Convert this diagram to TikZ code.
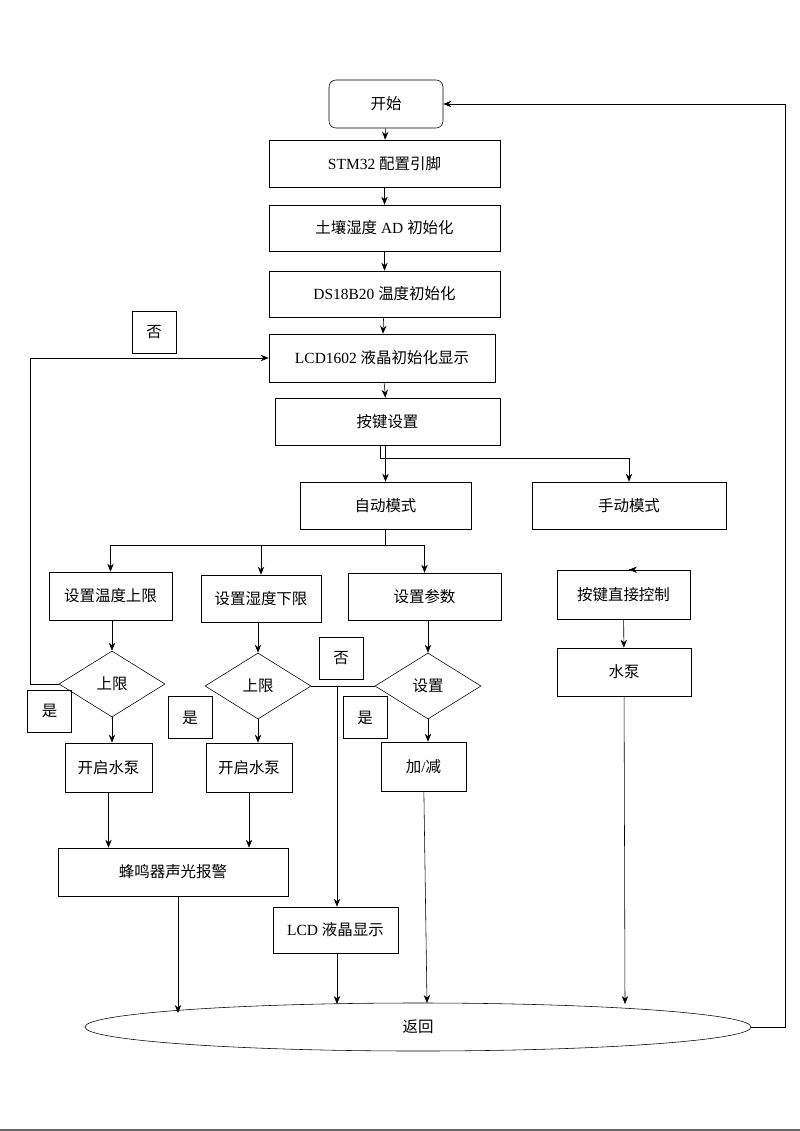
\documentclass[tikz,border=0pt]{standalone}
\usepackage{fontspec}
\setmainfont{Liberation Serif}
\newfontfamily\cjk{Noto Sans CJK SC}
\usetikzlibrary{arrows.meta,shapes.geometric}
\begin{document}
\begin{tikzpicture}
  [x=0.025cm,y=-0.025cm,>={Stealth[length=2mm,width=1.6mm]},
   every node/.style={font=\fontsize{11}{13}\selectfont},
   box/.style={rectangle,draw,inner sep=0pt},
   tag/.style={box,minimum width=1.1cm,minimum height=1.05cm},
   cond/.style={diamond,draw,inner sep=0pt,minimum width=2.65cm,minimum height=1.65cm},
   line/.style={draw,thin}]
  \useasboundingbox (0,0) rectangle (800,1131);
  \draw[gray!80!black,line width=0.8pt] (0,1130) -- (800,1130);

  % main column
  \node[box,rounded corners=5pt,minimum width=2.85cm,minimum height=1.2cm] (start) at (386,104) {\cjk 开始};
  \node[box,minimum width=5.775cm,minimum height=1.175cm] (stm) at (384.5,163.5) {STM32 {\cjk 配置引脚}};
  \node[box,minimum width=5.775cm,minimum height=1.15cm] (ad) at (384.5,228) {{\cjk 土壤湿度} AD {\cjk 初始化}};
  \node[box,minimum width=5.775cm,minimum height=1.15cm] (ds) at (384.5,294) {DS18B20 {\cjk 温度初始化}};
  \node[box,minimum width=5.65cm,minimum height=1.2cm] (lcd) at (382,358) {LCD1602 {\cjk 液晶初始化显示}};
  \node[box,minimum width=5.625cm,minimum height=1.175cm] (key) at (387.5,421.5) {\cjk 按键设置};
  \node[box,minimum width=4.275cm,minimum height=1.175cm] (auto) at (385.5,505.5) {\cjk 自动模式};
  \node[box,minimum width=4.85cm,minimum height=1.175cm] (manual) at (629,505.5) {\cjk 手动模式};

  % automatic branch
  \node[box,minimum width=3.075cm,minimum height=1.2cm] (set1) at (110.5,596) {\cjk 设置温度上限};
  \node[box,minimum width=3cm,minimum height=1.175cm] (set2) at (261,598.5) {\cjk 设置湿度下限};
  \node[box,minimum width=3.825cm,minimum height=1.175cm] (set3) at (424.5,596.5) {\cjk 设置参数};
  \node[cond] (up1) at (112,684) {\cjk 上限};
  \node[cond] (up2) at (258,686) {\cjk 上限};
  \node[cond] (cfg) at (428,686) {\cjk 设置};
  \node[tag] (yes1) at (49.5,711) {\cjk 是};
  \node[tag] (yes2) at (190,717.5) {\cjk 是};
  \node[tag] (yes3) at (365,717.5) {\cjk 是};
  \node[tag] (no1) at (154,332.5) {\cjk 否};
  \node[tag] (no2) at (341,658) {\cjk 否};
  \node[box,minimum width=2.175cm,minimum height=1.225cm] (pump1) at (108.5,767.5) {\cjk 开启水泵};
  \node[box,minimum width=2.15cm,minimum height=1.225cm] (pump2) at (249,767.5) {\cjk 开启水泵};
  \node[box,minimum width=2.125cm,minimum height=1.225cm] (incr) at (423.5,766.5) {{\cjk 加}/{\cjk 减}};
  \node[box,minimum width=5.75cm,minimum height=1.2cm] (alarm) at (173,872) {\cjk 蜂鸣器声光报警};
  \node[box,minimum width=3.125cm,minimum height=1.15cm] (show) at (335.5,930) {LCD {\cjk 液晶显示}};

  % manual branch
  \node[box,minimum width=3.325cm,minimum height=1.225cm] (direct) at (623.5,594.5) {\cjk 按键直接控制};
  \node[box,minimum width=3.35cm,minimum height=1.2cm] (pump) at (624,672) {\cjk 水泵};

  \node[ellipse,draw,minimum width=16.65cm,minimum height=1.2cm] (ret) at (418,1027) {\cjk 返回};

  % helper points
  \coordinate (fork) at (380,458);
  \coordinate (split) at (385,545);
  \coordinate (loop) at (30,684);
  \coordinate (tap) at (337,686);
  \coordinate (back) at (785,1027);
  \coordinate (end1) at (178,1013);
  \coordinate (end2) at (337,1004);
  \coordinate (end3) at (427,1003);
  \coordinate (end4) at (625,1004);

  % connectors
  \draw[->] (start) -- (stm);
  \draw[->] (stm) -- (ad);
  \draw[->] (ad) -- (ds);
  \draw[->] (ds) -- (lcd);
  \draw[->] (lcd) -- (key);
  \draw[->] (key.south -| auto) -- (auto);
  \draw[->] (key.south -| fork) -- (fork) -| (manual);
  \draw (auto.south -| split) -- (split);
  \draw[->] (split) -| (set1);
  \draw[->] (split) -| (set3);
  \draw[->] (split -| set2) -- (set2);
  \draw[->] (set1.south -| up1) -- (up1);
  \draw[->] (set2.south -| up2) -- (up2);
  \draw[->] (set3.south -| cfg) -- (cfg);
  \draw[->] (up1) -- (up1 |- pump1.north);
  \draw[->] (up2) -- (up2 |- pump2.north);
  \draw[->] (cfg) -- (cfg |- incr.north);
  \draw[->] (up1.west) -- (loop) |- (lcd.west);
  \draw (up2.east) -- (cfg.west);
  \draw[->] (tap) -- (tap |- show.north);
  \draw[->] (pump1) -- (pump1 |- alarm.north);
  \draw[->] (pump2.south) -- (pump2.south |- alarm.north);
  \draw[->] (direct.north -| manual) -- (direct);
  \draw[->] (direct) -- (pump);
  \draw[->] (end1 |- alarm.south) -- (end1);
  \draw[->] (end2 |- show.south) -- (end2);
  \draw[->] (incr) -- (end3);
  \draw[->] (pump) -- (end4);
  \draw[->] (ret.east) -- (back) |- (start.east);
\end{tikzpicture}
\end{document}
